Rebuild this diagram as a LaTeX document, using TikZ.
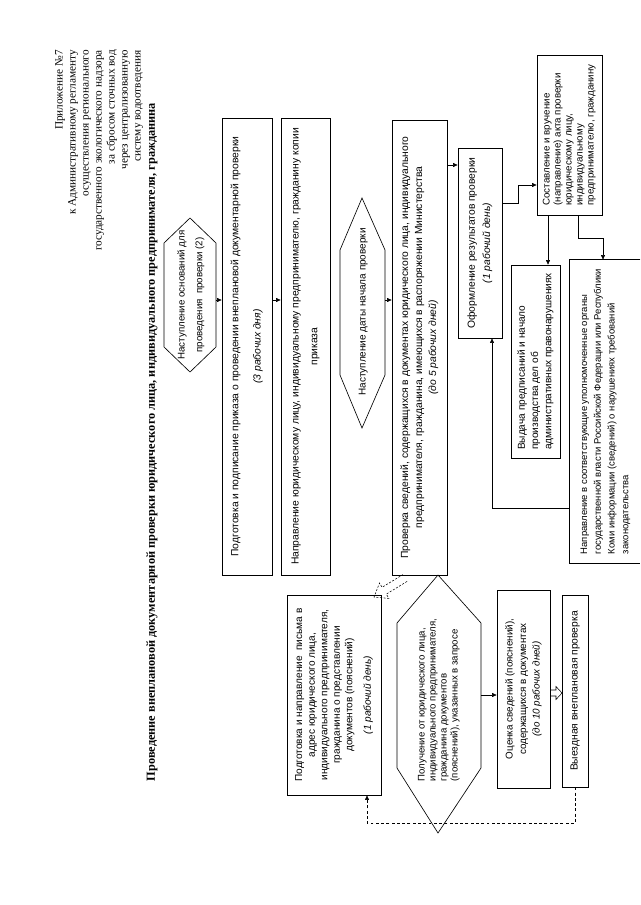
\documentclass[tikz,border=0pt]{standalone}
\usepackage{fontspec}
\setmainfont{Liberation Serif}
\setsansfont{Liberation Sans}
\usepackage{graphicx}
\usetikzlibrary{arrows.meta}
\newcommand\rt[2][c]{\rotatebox{90}{\begin{tabular}{@{}#1@{}}#2\end{tabular}}}
\newcommand\fs[2]{\fontsize{#1}{#2}\selectfont}
\newcommand\bx[7][]{\node[box,minimum width={(#5-#3)*0.3mm},minimum height={(#6-#4)*0.3mm},#1] (#2) at ({(#3+#5)/2},{(#4+#6)/2}) {#7};}
\begin{document}
\begin{tikzpicture}[x=0.3mm,y=-0.3mm,
  box/.style={draw,line width=0.55pt,inner sep=0pt,font=\sffamily\fs{8.8}{11}},
  lbl/.style={inner sep=0pt},
  arr/.style={line width=0.55pt,-{Triangle[length=1.4mm,width=1.2mm]}},
  hexline/.style={draw,line width=0.55pt},
  blockarrow/.style={line width=0.45pt,line join=miter}]
\useasboundingbox (0,0) rectangle (640,905);

% header
\node[lbl,anchor=north,font=\fs{9.6}{11.1}] (hdr) at (99,50) {\rt[r]{Приложение №7\\к Административному регламенту\\осуществления регионального\\государственного экологического надзора\\за сбросом сточных вод\\через централизованную\\систему водоотведения}};
\node[lbl,font=\bfseries\fs{10.5}{12}] (title) at (152,442) {\rt{Проведение внеплановой документарной проверки юридического лица, индивидуального предпринимателя, гражданина}};

% hexagon 1
\draw[hexline] (190,218) -- (216,243) -- (216,347) -- (190,372) -- (164,347) -- (164,243) -- cycle;
\node[lbl,font=\sffamily\fs{8.3}{15}] (h1) at (190,295) {\rt{Наступление оснований для\\проведения~~проверки (2)}};
\coordinate (h1r) at (216,300);

% boxes column
\bx{b2}{222}{118}{272}{575}{\rt{Подготовка и подписание приказа о проведении внеплановой документарной проверки\\[8pt]\textit{(3 рабочих дня)}}}
\bx{b3}{281}{118}{330}{575}{\rt{Направление юридическому лицу, индивидуальному предпринимателю, гражданину копии\\[5pt]приказа}}

% hexagon 2
\draw[hexline] (362,198) -- (385,250) -- (385,375) -- (362,428) -- (340,375) -- (340,250) -- cycle;
\node[lbl,font=\sffamily\fs{8.5}{11}] (h2) at (363,312) {\rt{Наступление даты начала проверки}};
\coordinate (h2r) at (385,300);

\bx{b4}{392}{120}{447}{575}{\rt{Проверка сведений, содержащихся в документах юридического лица, индивидуального\\[1pt]предпринимателя, гражданина, имеющихся в распоряжении Министерства\\[1pt]\textit{(до 5 рабочих дней)}}}
\bx{b5}{458}{148}{502}{338}{\rt{Оформление результатов проверки\\[2pt]\textit{(1 рабочий день)}}}
\bx[font=\sffamily\fs{8.3}{9.4}]{b6}{537}{55}{602}{215}{\rt[l]{Составление и вручение\\(направление) акта проверки\\юридическому лицу,\\индивидуальному\\предпринимателю, гражданину}}
\bx[font=\sffamily\fs{8.6}{11.3}]{b7}{511}{265}{560}{458}{\rt[l]{Выдача предписаний и начало\\производства дел об\\административных правонарушениях}}
\bx[draw=none,font=\sffamily\fs{8.1}{11.7}]{b8}{570}{260}{640}{563}{\rt[l]{Направление в соответствующие уполномоченные органы\\государственной власти Российской Федерации или Республики\\Коми информации (сведений) о нарушениях требований\\законодательства}}
\draw[line width=0.55pt] (b8.north east) -- (b8.north west) -- (b8.south west) -- (b8.south east);

% lower part
\bx[font=\sffamily\fs{8.6}{10.7}]{b9}{287}{595}{381}{795}{\rt{Подготовка и направление~~письма в\\адрес юридического лица,\\индивидуального предпринимателя,\\гражданина о представлении\\документов (пояснений)\\[5pt]\textit{(1 рабочий день)}}}
\draw[hexline] (438,575) -- (481,623) -- (481,768) -- (438,833) -- (397,768) -- (397,623) -- cycle;
\node[lbl,font=\sffamily\fs{8.2}{9.4}] (h3) at (439,700) {\rt[l]{Получение от юридического лица,\\индивидуального предпринимателя,\\гражданина документов\\(пояснений), указанных в запросе}};
\coordinate (h3r) at (481,695);
\bx[font=\sffamily\fs{8.4}{11.5}]{b10}{497}{590}{550}{788}{\rt{Оценка сведений (пояснений),\\содержащихся в документах\\\textit{(до 10 рабочих дней)}}}
\bx{b11}{562}{595}{588}{787}{\rt{Выездная внеплановая проверка}}

% connectors
\coordinate (k1) at (0,300);
\draw[arr] (h1r) -- (b2.west |- h1r);
\draw[arr] (b2.east |- k1) -- (b3.west |- k1);
\draw[arr] (h2r) -- (b4.west |- h2r);
\coordinate (k4) at (0,165);
\draw[arr] (b4.east |- k4) -- (b5.west |- k4);
\coordinate (k5) at (518,203);
\coordinate (k6) at (518,185);
\draw[arr] (b5.east |- k5) -- (k5) -- (k6) -- (b6.west |- k6);
\coordinate (k7) at (548,0);
\draw[arr] (b6.south -| k7) -- (b7.north -| k7);
\coordinate (k8a) at (578,238);
\coordinate (k8b) at (603,238);
\draw[arr] (b6.south -| k8a) -- (k8a) -- (k8b) -- (b8.north -| k8b);
\coordinate (ret) at (492,508);
\draw[arr] (b8.west |- ret) -- (ret) -- (b5.south -| ret);
\draw[arr] (h3r) -- (b10.west |- h3r);
% hollow block arrow box10 -> box11
\draw[blockarrow] (550,690) -- (556,690) -- (556,686.5) -- (562,693) -- (556,699.5) -- (556,696) -- (550,696);
% dashed hollow block arrow box4 -> box9
\draw[blockarrow,dash pattern=on 1.8pt off 1.3pt] (407.1,581.4) -- (386.3,594.1) -- (388.9,598.4) -- (374,597) -- (379.5,583.0) -- (382.1,587.3) -- (402.9,574.6);
\coordinate (k12a) at (575,823);
\coordinate (k12b) at (367,823);
\draw[arr,dash pattern=on 2.5pt off 2pt] (b11.south) -- (k12a) -- (k12b) -- (b9.south -| k12b);
\end{tikzpicture}
\end{document}
